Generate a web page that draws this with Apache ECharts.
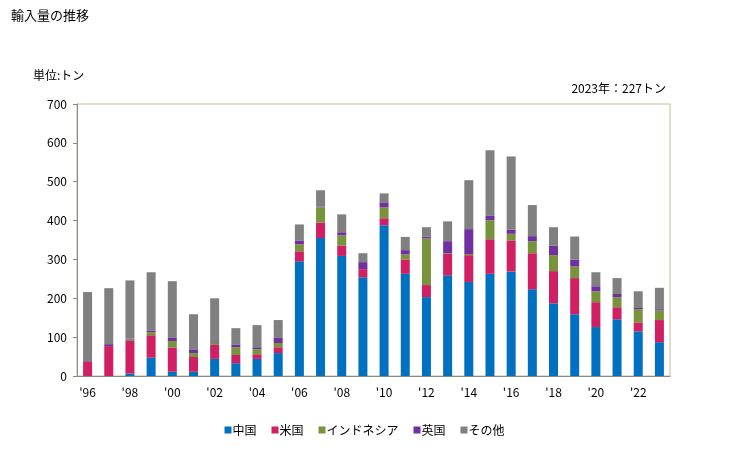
<!DOCTYPE html>
<html>
<head>
<meta charset="utf-8">
<script src="https://cdn.jsdelivr.net/npm/echarts@6/dist/echarts.min.js"></script>
<style>
  html, body { margin: 0; padding: 0; background: #fff; }
  #chart { width: 729px; height: 450px; }
</style>
</head>
<body>
<div id="chart"></div>
<script>
// 年（カテゴリ）
const years = ['96','97','98','99','00','01','02','03','04','05','06','07','08','09',
               '10','11','12','13','14','15','16','17','18','19','20','21','22','23']
// 各国の輸入量（トン）
const china     = [0, 0, 6, 47, 11, 11, 44, 33, 44, 59, 295, 355, 309, 254, 388, 263, 203, 259, 242, 263, 269, 223, 187, 159, 126, 146, 115, 87]
const usa       = [36, 77, 84, 58, 62, 38, 36, 21, 12, 15, 26, 40, 27, 21, 18, 37, 31, 55, 69, 89, 80, 93, 83, 93, 64, 31, 23, 57]
const indonesia = [0, 0, 4, 8, 17, 10, 5, 20, 13, 11, 18, 39, 26, 0, 28, 13, 120, 2, 3, 49, 17, 31, 41, 30, 28, 26, 34, 25]
const uk        = [2, 5, 2, 3, 8, 8, 2, 6, 5, 13, 10, 2, 8, 18, 13, 11, 5, 31, 64, 11, 11, 13, 24, 18, 13, 8, 3, 3]
const others    = [178, 144, 150, 151, 146, 92, 113, 43, 57, 46, 41, 42, 46, 23, 23, 34, 24, 51, 126, 169, 188, 80, 48, 59, 36, 41, 43, 55]

const seriesNames = ['中国', '米国', 'インドネシア', '英国', 'その他']
const seriesColors = ['#0070c0', '#d01f63', '#77933c', '#7030a0', '#808080']
const seriesData = [china, usa, indonesia, uk, others]

const font = '"Noto Sans CJK JP", sans-serif'
const chart = echarts.init(document.getElementById('chart'))

const option = {
    animation: false,
    textStyle: { fontFamily: font },
    title: [
        { text: '輸入量の推移', left: 6, top: 4, textStyle: { fontSize: 13, fontWeight: 'normal', color: '#000', fontFamily: font } },
        { text: '単位:トン', left: 28, top: 64, textStyle: { fontSize: 12, fontWeight: 'normal', color: '#000', fontFamily: font } },
        { text: '2023年：227トン', right: 58, top: 77, textStyle: { fontSize: 12, fontWeight: 'normal', color: '#000', fontFamily: font } }
    ],
    legend: {
        bottom: 9,
        left: 'center',
        itemWidth: 7,
        itemHeight: 7,
        itemGap: 15,
        icon: 'rect',
        textStyle: { fontSize: 12, color: '#000', fontFamily: font, padding: [0, 0, 0, -4] },
        data: seriesNames
    },
    grid: {
        left: 77, right: 59, top: 104, bottom: 74,
        show: true,
        borderColor: '#c4bc96',
        borderWidth: 1
    },
    xAxis: {
        type: 'category',
        data: years.map(y => "'" + y),
        axisLine: { lineStyle: { color: '#888' } },
        axisTick: { show: false },
        axisLabel: { interval: 1, color: '#000', fontSize: 12, margin: 10 }
    },
    yAxis: {
        type: 'value',
        min: 0, max: 700, interval: 100,
        axisLine: { show: true, lineStyle: { color: '#888' } },
        axisTick: { show: true, length: 4, lineStyle: { color: '#888' } },
        splitLine: { show: false },
        axisLabel: { color: '#000', fontSize: 12, margin: 10 }
    },
    series: seriesNames.map((name, i) => ({
        name: name,
        type: 'bar',
        stack: 'total',
        barWidth: 9,
        itemStyle: { color: seriesColors[i] },
        data: seriesData[i]
    }))
}

chart.setOption(option)
</script>
</body>
</html>
